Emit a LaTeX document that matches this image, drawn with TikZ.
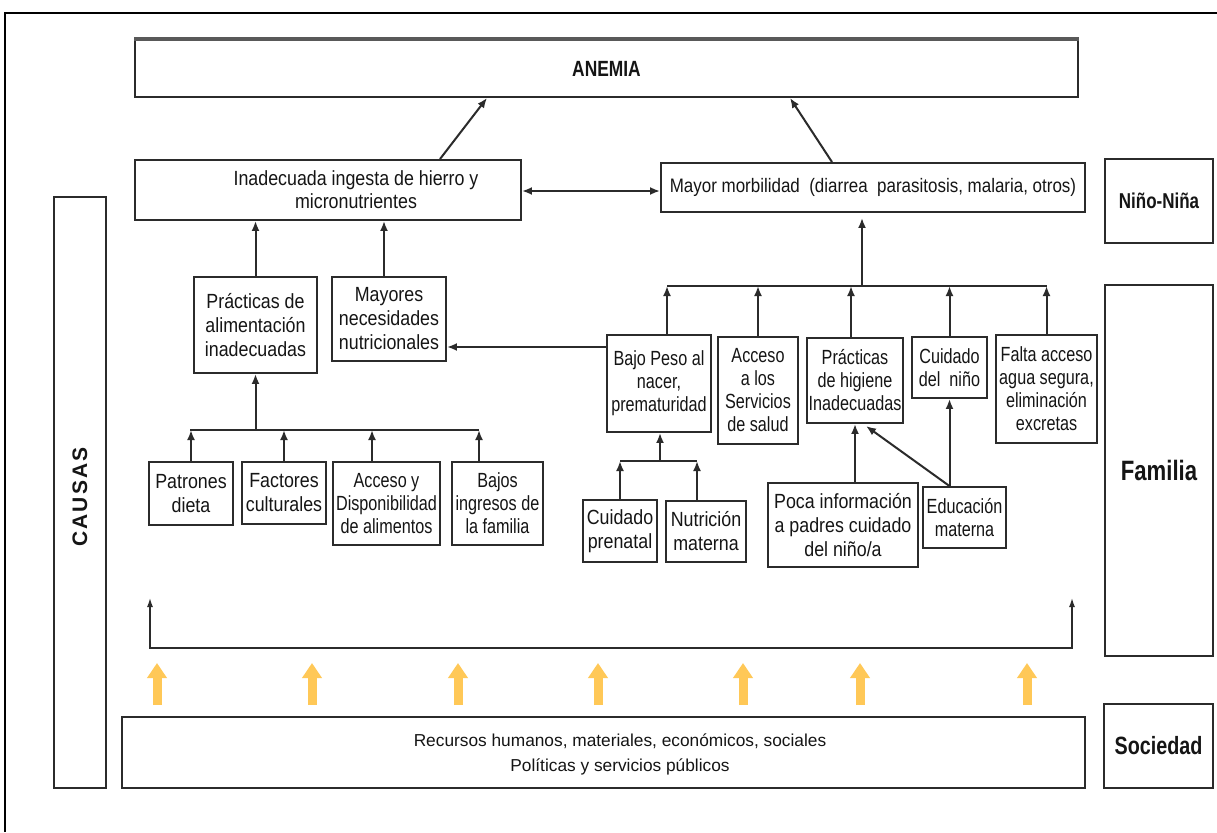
\documentclass[tikz,border=0pt]{standalone}
\usepackage{fontspec}
\setmainfont{Liberation Sans}[FakeStretch=0.87]
\newfontfamily\narrowf{Liberation Sans}[FakeStretch=0.79]
\newfontfamily\plainf{Liberation Sans}
\newfontfamily\spacedf{Liberation Sans}[LetterSpace=10]
\usetikzlibrary{arrows.meta}
\definecolor{linec}{HTML}{2B2B2B}
\definecolor{gold}{RGB}{255,200,87}
\definecolor{txt}{HTML}{151515}
\begin{document}
\begin{tikzpicture}[x=1pt,y=-1pt,
  box/.style={draw=linec, line width=1.9pt, inner sep=0pt, align=center, text=txt, font=\fontsize{20.5}{24}\selectfont},
  nbox/.style={box, font=\narrowf\fontsize{20.5}{23}\selectfont},
  lbl/.style={box, font=\narrowf\bfseries\fontsize{21.5}{24}\selectfont},
  conn/.style={draw=linec, line width=2pt},
  arr/.style={conn, -{Latex[length=10pt,width=8pt]}},
  darr/.style={conn, {Latex[length=10pt,width=8pt]}-{Latex[length=10pt,width=8pt]}},
  brk/.style={draw=linec, line width=1.4pt, {Latex[length=9pt,width=6pt]}-{Latex[length=9pt,width=6pt]}},
  goldarr/.style={draw=gold, line width=9pt, -{Triangle[length=15pt,width=19pt]}},
]
\useasboundingbox (0,0) rectangle (1217,832);
\fill[white] (0,0) rectangle (1217,832);
% outer frame
\draw[line width=1.6pt, black] (5,832) -- (5,13) -- (1217,13);

% top level
\node[lbl, minimum width=943pt, minimum height=57pt, font=\narrowf\bfseries\fontsize{22}{24}\selectfont] (anemia) at (606.5,68.5) {ANEMIA};
\draw[line width=3.5pt, draw=black!65] (anemia.north west) -- (anemia.north east);

\node[box, minimum width=386pt, minimum height=60pt] (ing) at (328,190) {};
\node[font=\fontsize{20.5}{23}\selectfont, align=center, text=txt, inner sep=0pt] (ingt) at (356,190) {Inadecuada ingesta de hierro y\\micronutrientes};
\node[box, minimum width=424pt, minimum height=49pt, font=\fontsize{19.5}{24}\selectfont] (morb) at (873,187.5) {Mayor morbilidad\ \ (diarrea\ \ parasitosis, malaria, otros)};

% side labels
\node[lbl, minimum width=108pt, minimum height=84pt] (nino) at (1159,201) {Niño-Niña};
\node[lbl, minimum width=108pt, minimum height=371pt, font=\narrowf\bfseries\fontsize{28}{30}\selectfont] (fam) at (1159,470.5) {Familia};
\node[lbl, minimum width=109pt, minimum height=84pt, font=\narrowf\bfseries\fontsize{25}{28}\selectfont] (soc) at (1158.5,746) {Sociedad};
\node[box, minimum width=52pt, minimum height=591pt] (causas) at (80,492.5) {};
\node[rotate=90, font=\spacedf\bfseries\fontsize{21}{24}\selectfont, text=txt, inner sep=0pt] (causast) at (80,497) {CAUSAS};

% left branch
\node[box, minimum width=123pt, minimum height=96pt] (pract) at (255.5,325) {Prácticas de\\alimentación\\inadecuadas};
\node[box, minimum width=114pt, minimum height=84pt] (mayo) at (389,319) {Mayores\\necesidades\\nutricionales};
\node[box, minimum width=84pt, minimum height=63pt] (patr) at (191,493.5) {Patrones\\dieta};
\node[box, minimum width=84pt, minimum height=62pt] (fact) at (284,493) {Factores\\culturales};
\node[nbox, minimum width=107pt, minimum height=83pt] (accy) at (386.5,503.5) {Acceso y\\Disponibilidad\\de alimentos};
\node[nbox, minimum width=91pt, minimum height=83pt] (bajos) at (497.5,503.5) {Bajos\\ingresos de\\la familia};

% right branch
\node[nbox, minimum width=104pt, minimum height=97pt] (bajo) at (659,383.5) {Bajo Peso al\\nacer,\\prematuridad};
\node[nbox, minimum width=80pt, minimum height=107pt] (acs) at (758,390.5) {Acceso\\a los\\Servicios\\de salud};
\node[nbox, minimum width=96pt, minimum height=85pt] (hig) at (855,380.5) {Prácticas\\de higiene\\Inadecuadas};
\node[nbox, minimum width=75pt, minimum height=61pt] (cuid) at (949.5,367.5) {Cuidado\\del\ \ niño};
\node[nbox, minimum width=101pt, minimum height=108pt] (falta) at (1046.5,389) {Falta acceso\\agua segura,\\eliminación\\excretas};
\node[box, minimum width=74pt, minimum height=62pt] (cpren) at (620,531) {Cuidado\\prenatal};
\node[box, minimum width=80pt, minimum height=61pt] (nutr) at (706,531.5) {Nutrición\\materna};
\node[box, minimum width=150pt, minimum height=84pt] (poca) at (843,525) {Poca información\\a padres cuidado\\del niño/a};
\node[nbox, minimum width=83pt, minimum height=61pt] (edu) at (964.5,517.5) {Educación\\materna};

% society
\node[box, minimum width=963pt, minimum height=71pt] (rec) at (603.5,752.5) {};
\node[font=\plainf\fontsize{17.3}{25}\selectfont, align=center, text=txt, inner sep=0pt] (rect) at (620,754) {Recursos humanos, materiales, económicos, sociales\\Políticas y servicios públicos};

% connectors top
\draw[arr] (ing.north -| 440,0) -- (anemia.south -| 487,0);
\draw[arr] (morb.north -| 832,0) -- (anemia.south -| 790,0);
\draw[darr] (ing.east |- 0,191) -- (morb.west |- 0,191);
\draw[arr] (pract.north) -- (ing.south -| pract.north);
\draw[arr] (mayo.north -| 384,0) -- (ing.south -| 384,0);
\draw[arr] (bajo.west |- 0,347) -- (mayo.east |- 0,347);

% left bus
\coordinate (lb1) at (190,430);
\coordinate (lb2) at (479,430);
\coordinate (lbus) at (255.5,430);
\draw[conn] (lb1) -- (lb2);
\draw[arr] (lbus) -- (pract.south);
\draw[arr] (patr.north) -- (patr.north |- lbus);
\draw[arr] (fact.north) -- (fact.north |- lbus);
\draw[arr] (accy.north -| 372,0) -- (lbus -| 372,0);
\draw[arr] (bajos.north -| lb2) -- (lb2);

% right bus
\coordinate (rb1) at (667,286);
\coordinate (rb2) at (1047,286);
\coordinate (rbus) at (862,286);
\draw[conn] (rb1) -- (rb2);
\draw[arr, shorten >=5pt] (rbus) -- (morb.south -| rbus);
\draw[arr] (bajo.north -| rb1) -- (rb1);
\draw[arr] (acs.north) -- (acs.north |- rb1);
\draw[arr] (hig.north -| 851,0) -- (rb1 -| 851,0);
\draw[arr] (cuid.north) -- (cuid.north |- rb1);
\draw[arr] (falta.north) -- (falta.north |- rb1);

% bajo peso sub-bus
\coordinate (bb1) at (620,461);
\coordinate (bb2) at (697,461);
\coordinate (bbs) at (660,461);
\draw[conn] (bb1) -- (bb2);
\draw[arr] (bbs) -- (bajo.south -| bbs);
\draw[arr] (cpren.north) -- (cpren.north |- bb1);
\draw[arr] (nutr.north -| bb2) -- (bb2);

% hygiene / care
\coordinate (higtip) at (866,426);
\draw[arr] (poca.north -| hig.south) -- (hig.south);
\draw[arr] (edu.north -| cuid.south) -- (cuid.south);
\draw[arr] (edu.north -| cuid.south) -- (higtip);

% bracket
\coordinate (brlt) at (150,598);
\coordinate (brl) at (150,648);
\coordinate (brr) at (1072,648);
\coordinate (brrt) at (1072,598);
\draw[brk] (brlt) -- (brl) -- (brr) -- (brrt);

% yellow arrows
\foreach \x in {157,312,458,598,743,860,1027}
  \draw[goldarr] (\x,705) -- (\x,663);
\end{tikzpicture}
\end{document}
